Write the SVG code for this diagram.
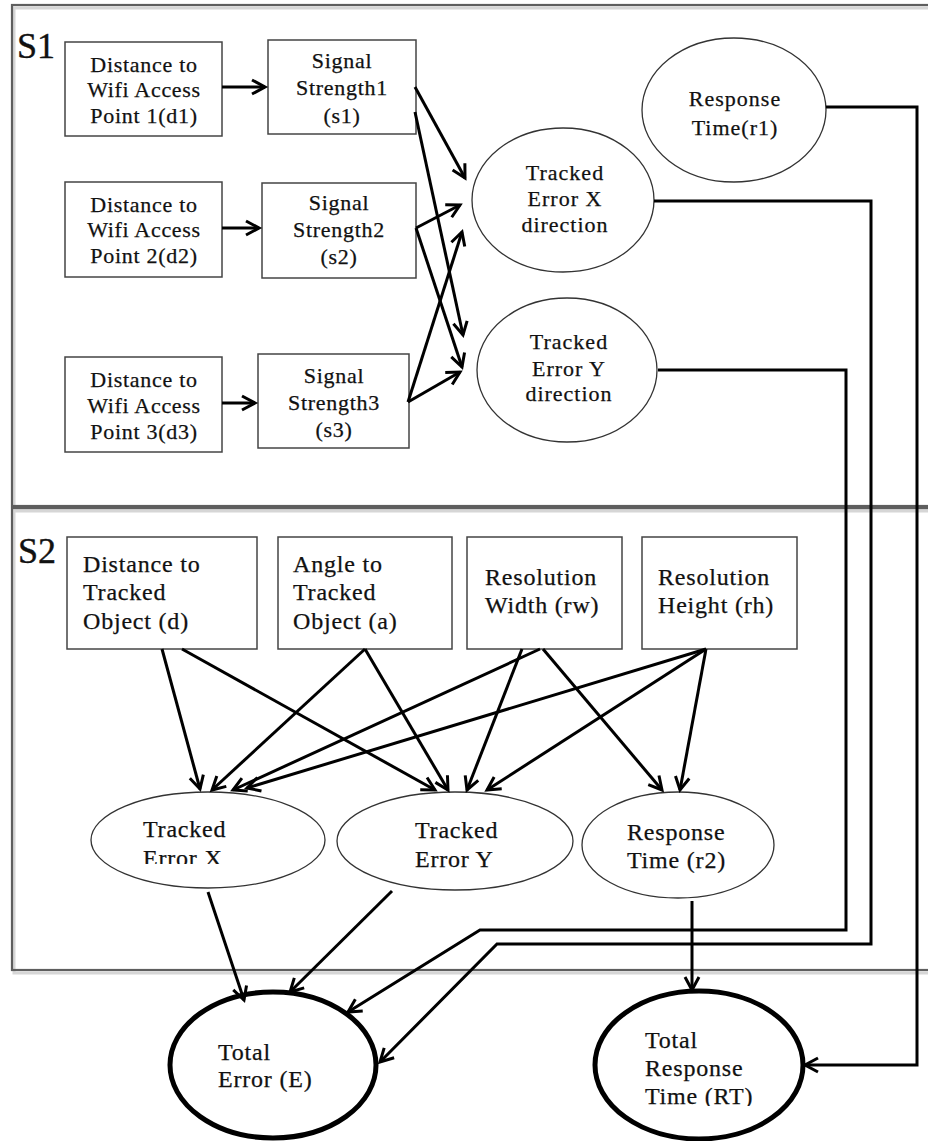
<svg xmlns="http://www.w3.org/2000/svg" width="928" height="1141" viewBox="0 0 928 1141">
  <style>
    .panel { fill: none; stroke: #5e5e5e; stroke-width: 2.2; }
    .panel-shadow { fill: none; stroke: #d6d6d6; stroke-width: 3; }
    .box { fill: #fff; stroke: #444; stroke-width: 1.5; }
    .oval { fill: #fff; stroke: #333; stroke-width: 1.3; }
    .total { fill: #fff; stroke: #000; stroke-width: 5; }
    text { font-family: "Liberation Serif", "Times New Roman", serif; fill: #111; stroke: #111; stroke-width: 0.25; }
    .t1 { font-size: 22px; letter-spacing: 0.7px; text-anchor: middle; }
    .t1e { font-size: 22px; letter-spacing: 1px; text-anchor: middle; }
    .t2 { font-size: 24px; letter-spacing: 0.8px; }
    .lbl { font-size: 36px; stroke-width: 0.4; }
    .edge { fill: none; stroke: #000; stroke-width: 3; marker-end: url(#arr); }
  </style>
  <defs>
    <marker id="arr" viewBox="-16 -10 20 20" refX="0" refY="0" markerWidth="20" markerHeight="20" markerUnits="userSpaceOnUse" orient="auto">
      <path d="M-13,-7 L0,0 L-13,7" fill="none" stroke="#000" stroke-width="3"/>
    </marker>
    <clipPath id="clipTEX"><rect x="0" y="0" width="928" height="864"/></clipPath>
    <clipPath id="clipRT"><rect x="0" y="0" width="928" height="1106"/></clipPath>
  </defs>

  <rect width="928" height="1141" fill="#fff"/>

  <!-- section frames -->
  <g id="sections">
    <rect class="panel-shadow" x="14" y="8" width="940" height="501"/>
    <rect class="panel" x="12" y="5" width="940" height="501"/>
    <rect class="panel-shadow" x="14" y="511" width="940" height="462"/>
    <rect class="panel" x="12" y="508" width="940" height="462"/>
    <text class="lbl" x="17" y="58">S1</text>
    <text class="lbl" x="18" y="563">S2</text>
  </g>

  <!-- S1 nodes -->
  <g id="d1">
    <rect class="box" x="65" y="42" width="157" height="94"/>
    <text class="t1" x="144" y="72">Distance to</text>
    <text class="t1" x="144" y="97">Wifi Access</text>
    <text class="t1" x="144" y="123">Point 1(d1)</text>
  </g>
  <g id="d2">
    <rect class="box" x="65" y="182" width="157" height="95"/>
    <text class="t1" x="144" y="212">Distance to</text>
    <text class="t1" x="144" y="237">Wifi Access</text>
    <text class="t1" x="144" y="263">Point 2(d2)</text>
  </g>
  <g id="d3">
    <rect class="box" x="65" y="357" width="157" height="95"/>
    <text class="t1" x="144" y="387">Distance to</text>
    <text class="t1" x="144" y="413">Wifi Access</text>
    <text class="t1" x="144" y="439">Point 3(d3)</text>
  </g>
  <g id="s1">
    <rect class="box" x="268" y="40" width="148" height="94"/>
    <text class="t1" x="342" y="68">Signal</text>
    <text class="t1" x="342" y="95">Strength1</text>
    <text class="t1" x="342" y="123">(s1)</text>
  </g>
  <g id="s2">
    <rect class="box" x="262" y="183" width="154" height="95"/>
    <text class="t1" x="339" y="210">Signal</text>
    <text class="t1" x="339" y="237">Strength2</text>
    <text class="t1" x="339" y="264">(s2)</text>
  </g>
  <g id="s3">
    <rect class="box" x="258" y="354" width="151" height="94"/>
    <text class="t1" x="334" y="383">Signal</text>
    <text class="t1" x="334" y="410">Strength3</text>
    <text class="t1" x="334" y="437">(s3)</text>
  </g>
  <g id="r1">
    <ellipse class="oval" cx="734" cy="110" rx="92" ry="72"/>
    <text class="t1e" x="735" y="106">Response</text>
    <text class="t1e" x="735" y="135">Time(r1)</text>
  </g>
  <g id="tex_dir">
    <ellipse class="oval" cx="563" cy="200" rx="91" ry="72"/>
    <text class="t1e" x="565" y="180">Tracked</text>
    <text class="t1e" x="565" y="206">Error X</text>
    <text class="t1e" x="565" y="232">direction</text>
  </g>
  <g id="tey_dir">
    <ellipse class="oval" cx="567" cy="370" rx="90" ry="72"/>
    <text class="t1e" x="569" y="349">Tracked</text>
    <text class="t1e" x="569" y="376">Error Y</text>
    <text class="t1e" x="569" y="401">direction</text>
  </g>

  <!-- S2 nodes -->
  <g id="d">
    <rect class="box" x="67" y="537" width="190" height="112"/>
    <text class="t2" x="83" y="572">Distance to</text>
    <text class="t2" x="83" y="600">Tracked</text>
    <text class="t2" x="83" y="629">Object (d)</text>
  </g>
  <g id="a">
    <rect class="box" x="278" y="537" width="174" height="112"/>
    <text class="t2" x="293" y="572">Angle to</text>
    <text class="t2" x="293" y="600">Tracked</text>
    <text class="t2" x="293" y="629">Object (a)</text>
  </g>
  <g id="rw">
    <rect class="box" x="467" y="537" width="155" height="112"/>
    <text class="t2" x="485" y="585">Resolution</text>
    <text class="t2" x="485" y="613">Width (rw)</text>
  </g>
  <g id="rh">
    <rect class="box" x="642" y="537" width="155" height="112"/>
    <text class="t2" x="658" y="585">Resolution</text>
    <text class="t2" x="658" y="613">Height (rh)</text>
  </g>
  <g id="tex">
    <ellipse class="oval" cx="208" cy="840" rx="117" ry="48"/>
    <text class="t2" x="143" y="837">Tracked</text>
    <text class="t2" x="143" y="866" clip-path="url(#clipTEX)">Error X</text>
  </g>
  <g id="tey">
    <ellipse class="oval" cx="455" cy="841" rx="118" ry="49"/>
    <text class="t2" x="415" y="838">Tracked</text>
    <text class="t2" x="415" y="867">Error Y</text>
  </g>
  <g id="r2">
    <ellipse class="oval" cx="678" cy="845" rx="96" ry="53"/>
    <text class="t2" x="627" y="840">Response</text>
    <text class="t2" x="627" y="868">Time (r2)</text>
  </g>
  <g id="total_error">
    <ellipse class="total" cx="273" cy="1065" rx="103" ry="73"/>
    <text class="t2" x="218" y="1060">Total</text>
    <text class="t2" x="218" y="1087">Error (E)</text>
  </g>
  <g id="total_rt">
    <ellipse class="total" cx="699" cy="1065" rx="104" ry="74"/>
    <text class="t2" x="645" y="1048">Total</text>
    <text class="t2" x="645" y="1076">Response</text>
    <text class="t2" x="645" y="1104" clip-path="url(#clipRT)">Time (RT)</text>
  </g>

  <!-- connectors -->
  <g id="connectors">
    <line class="edge" x1="222" y1="87" x2="265" y2="87"/>
    <line class="edge" x1="222" y1="228" x2="259" y2="228"/>
    <line class="edge" x1="222" y1="403" x2="255" y2="403"/>
    <line class="edge" x1="415" y1="87" x2="465" y2="178"/>
    <line class="edge" x1="415" y1="112" x2="463" y2="335"/>
    <line class="edge" x1="416" y1="228" x2="460" y2="205"/>
    <line class="edge" x1="416" y1="228" x2="462" y2="367"/>
    <line class="edge" x1="408" y1="402" x2="462" y2="232"/>
    <line class="edge" x1="408" y1="402" x2="460" y2="372"/>
    <polyline class="edge" points="826,107 917,107 917,1065 805,1065"/>
    <polyline class="edge" points="654,201 871,201 871,944 497,944 380,1062"/>
    <polyline class="edge" points="658,370 846,370 846,930 480,930 348,1012"/>

    <line class="edge" x1="162" y1="649" x2="200" y2="789"/>
    <line class="edge" x1="182" y1="649" x2="435" y2="790"/>
    <line class="edge" x1="365" y1="649" x2="212" y2="790"/>
    <line class="edge" x1="365" y1="649" x2="448" y2="790"/>
    <line class="edge" x1="540" y1="649" x2="233" y2="790"/>
    <line class="edge" x1="522" y1="649" x2="467" y2="790"/>
    <line class="edge" x1="543" y1="649" x2="662" y2="790"/>
    <line class="edge" x1="706" y1="649" x2="247" y2="788"/>
    <line class="edge" x1="706" y1="649" x2="487" y2="790"/>
    <line class="edge" x1="706" y1="649" x2="680" y2="790"/>
    <line class="edge" x1="208" y1="892" x2="244" y2="1000"/>
    <line class="edge" x1="392" y1="891" x2="290" y2="992"/>
    <line class="edge" x1="692" y1="901" x2="692" y2="990"/>
  </g>
</svg>
